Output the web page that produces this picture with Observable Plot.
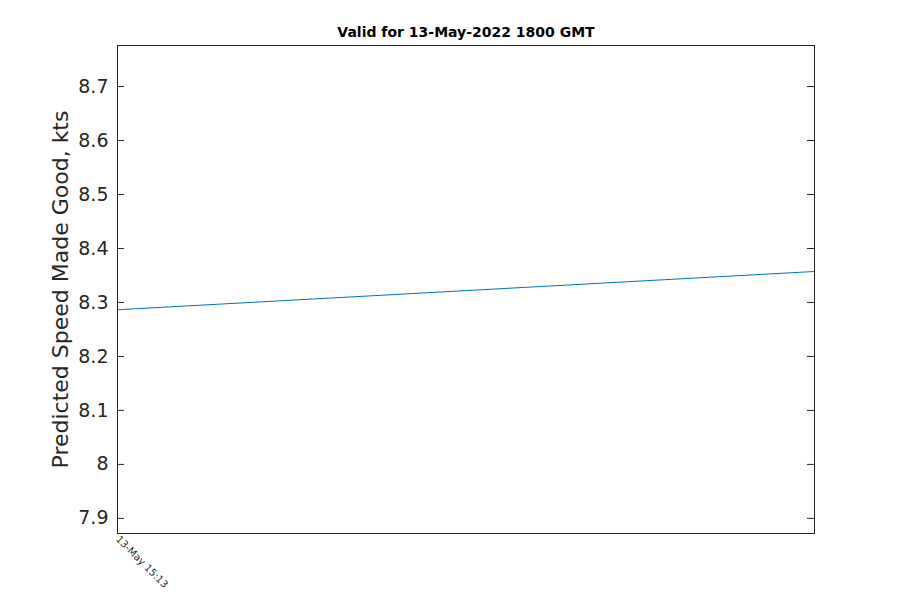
<!DOCTYPE html>
<html><head><meta charset="utf-8">
<script src="https://cdn.jsdelivr.net/npm/d3@7"></script>
<script src="https://cdn.jsdelivr.net/npm/@observablehq/plot@0.6"></script>
<style>body{margin:0;background:#fff;font-family:"DejaVu Sans",sans-serif}</style>
</head><body><div id="chart"></div>
<script>
const titleText = "Valid for 13-May-2022 1800 GMT";
const yLabel = "Predicted Speed Made Good, kts";
const times = [new Date(Date.UTC(2022,4,13,15,13)), new Date(Date.UTC(2022,4,13,18,0))];
const speeds = [8.2865, 8.3574];
const yTicks = [7.9, 8.0, 8.1, 8.2, 8.3, 8.4, 8.5, 8.6, 8.7];
const xTicks = [times[0]];
const data = times.map((t,i)=>({t, v: speeds[i]}));
const fmtX = d3.utcFormat("%d-%b %H:%M");

const W = 900, H = 600, ML = 117, MR = 86, MT = 45, MB = 67;
const frameW = W - ML - MR;
const tickLen = 7;

const chart = Plot.plot({
  width: W, height: H,
  marginLeft: ML, marginRight: MR, marginTop: MT, marginBottom: MB,
  style: {fontFamily: "DejaVu Sans, sans-serif", color: "#262626", background: "#fff"},
  x: {type: "utc", domain: times, ticks: xTicks, tickFormat: fmtX},
  y: {domain: [7.872, 8.776], ticks: yTicks},
  marks: [
    Plot.axisY({anchor: "left", ticks: yTicks, tickSize: 0, tickPadding: 9, label: null, fontSize: 19, tickFormat: d => String(+d.toFixed(1))}),
    Plot.tickY(yTicks, {y: d => d, insetRight: frameW - tickLen, stroke: "#262626"}),
    Plot.tickY(yTicks, {y: d => d, insetLeft: frameW - tickLen, stroke: "#262626"}),
    Plot.axisX({anchor: "bottom", ticks: xTicks, tickSize: 0, tickPadding: 4, tickRotate: 45, tickFormat: fmtX, fontSize: 10, label: null}),
    Plot.lineY(data, {x: "t", y: "v", stroke: "#0072BD", strokeWidth: 1}),
    Plot.frame({stroke: "#262626", strokeWidth: 1}),
    Plot.text([titleText], {frameAnchor: "top", dy: -18, fontWeight: "bold", fontSize: 14, fill: "#000"}),
    Plot.text([yLabel], {frameAnchor: "left", dx: -57, rotate: -90, textAnchor: "middle", fontSize: 22, fill: "#262626"})
  ]
});
document.getElementById("chart").appendChild(chart);
</script></body></html>
